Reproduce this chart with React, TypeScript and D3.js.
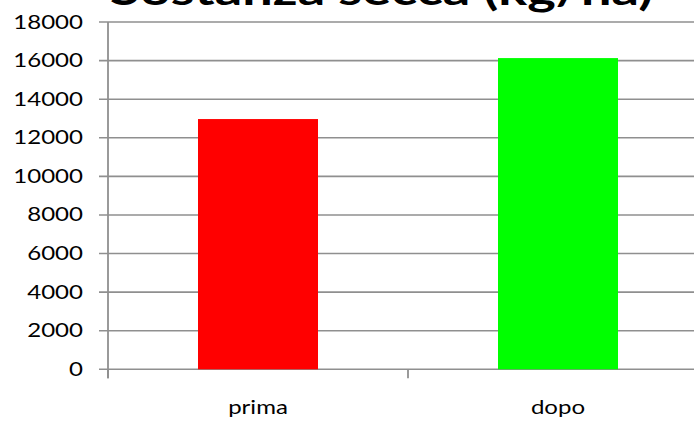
import React, { useRef, useEffect } from "react";
import { select, scaleLinear, scaleBand, range } from "d3";

const categories = ["prima", "dopo"];
const values = [12970, 16130];
const colors = ["#ff0000", "#00ff00"];
const yTicks = [0, 2000, 4000, 6000, 8000, 10000, 12000, 14000, 16000, 18000];
const title = "Sostanza secca (kg/ha)";

const width = 694;
const height = 422;

function BarChart() {
  const svgRef = useRef<SVGSVGElement>(null);

  useEffect(() => {
    const svg = select(svgRef.current);
    svg.selectAll("*").remove();

    const margin = { top: 22, left: 108 };
    const plotBottom = 369.3;
    // the plot runs past the right edge of the picture
    const plotRight = 708;

    const xScale = scaleBand()
      .domain(categories)
      .range([margin.left, plotRight])
      .paddingInner(0.6)
      .paddingOuter(0.3);

    const yScale = scaleLinear().domain([0, 18000]).range([plotBottom, margin.top]);

    const font = "Lato, 'Open Sans', sans-serif";
    const grid = "#8f8f8f";

    // gridlines
    svg
      .append("g")
      .selectAll("line")
      .data(yTicks)
      .join("line")
      .attr("x1", margin.left - 9)
      .attr("x2", width + 20)
      .attr("y1", (d) => yScale(d))
      .attr("y2", (d) => yScale(d))
      .attr("stroke", grid)
      .attr("stroke-width", 1.6);

    // y tick labels
    svg
      .append("g")
      .selectAll("text")
      .data(yTicks)
      .join("text")
      .attr("transform", (d) => `translate(83,${yScale(d) + 6.5}) scale(1.3,1)`)
      .attr("text-anchor", "end")
      .attr("font-family", font)
      .attr("font-size", 18.5)
      .attr("fill", "#000")
      .text((d) => String(d));

    // bars
    svg
      .append("g")
      .selectAll("rect")
      .data(values)
      .join("rect")
      .attr("x", (d, i) => xScale(categories[i]))
      .attr("y", (d) => yScale(d))
      .attr("width", xScale.bandwidth())
      .attr("height", (d) => yScale(0) - yScale(d))
      .attr("fill", (d, i) => colors[i]);

    // y axis line
    svg
      .append("line")
      .attr("x1", margin.left)
      .attr("x2", margin.left)
      .attr("y1", yScale(18000))
      .attr("y2", plotBottom + 9)
      .attr("stroke", grid)
      .attr("stroke-width", 1.8);

    // category boundary ticks
    const step = xScale.step();
    svg
      .append("g")
      .selectAll("line")
      .data(range(categories.length))
      .join("line")
      .attr("x1", (i) => margin.left + i * step)
      .attr("x2", (i) => margin.left + i * step)
      .attr("y1", plotBottom)
      .attr("y2", plotBottom + 9)
      .attr("stroke", grid)
      .attr("stroke-width", 1.8);

    // category labels
    svg
      .append("g")
      .selectAll("text")
      .data(categories)
      .join("text")
      .attr(
        "transform",
        (d) => `translate(${xScale(d) + xScale.bandwidth() / 2},414) scale(1.3,1)`
      )
      .attr("text-anchor", "middle")
      .attr("font-family", font)
      .attr("font-size", 18.5)
      .attr("fill", "#000")
      .text((d) => d);

    // title, cut at the top as in the original
    svg
      .append("text")
      .attr("x", 110)
      .attr("y", 5)
      .attr("font-family", font)
      .attr("font-weight", "bold")
      .attr("font-size", 40)
      .attr("textLength", 543)
      .attr("lengthAdjust", "spacingAndGlyphs")
      .attr("fill", "#000")
      .text(title);
  }, []);

  return (
    <svg
      ref={svgRef}
      width={width}
      height={height}
      style={{ position: "fixed", top: 0, left: 0, background: "#fff" }}
    />
  );
}

export default function App() {
  return <BarChart />;
}
